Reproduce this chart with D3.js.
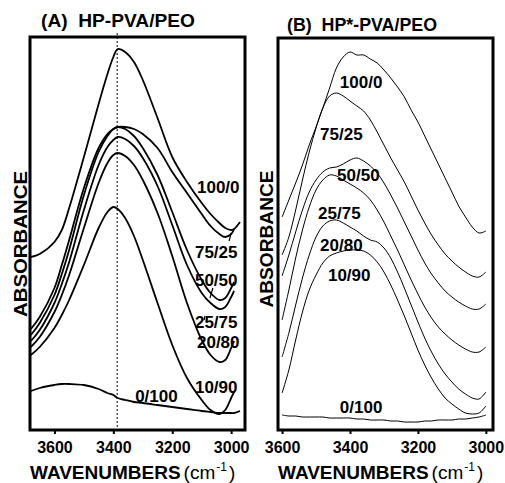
<!DOCTYPE html>
<html>
<head>
<meta charset="utf-8">
<script src="https://cdn.jsdelivr.net/npm/d3@7"></script>
<style>
  body { margin: 0; background: #fff; }
  svg { display: block; font-family: "Liberation Sans", Arial, Helvetica, sans-serif; }
  .lbl { font-weight: bold; font-size: 17px; }
  .tick text { font-weight: bold; font-size: 16px; font-family: "Liberation Sans", Arial, sans-serif; }
</style>
</head>
<body>
<svg id="chart" width="505" height="483"></svg>
<script>
"use strict";
// blend ratios (HP-PVA / PEO)
const blends = ["100/0", "75/25", "50/50", "25/75", "20/80", "10/90", "0/100"];

// panel A : HP-PVA/PEO
const wavenumbersA = [3680, 3650, 3600, 3575, 3550, 3500, 3450, 3420, 3400, 3385, 3360, 3330, 3300, 3250, 3200, 3150, 3100, 3070, 3040, 3020, 3000, 2990, 2970];
const absA_100_0 = [1.73, 1.76, 1.88, 2.00, 2.22, 2.73, 3.26, 3.56, 3.73, 3.81, 3.78, 3.68, 3.50, 3.12, 2.73, 2.48, 2.27, 2.16, 2.07, 2.02, 2.00, 2.01, 2.08];
const absA_75_25 = [1.01, 1.13, 1.42, 1.65, 1.90, 2.42, 2.82, 2.96, 3.01, 3.03, 3.03, 3.01, 2.96, 2.82, 2.58, 2.37, 2.16, 2.04, 1.96, 1.93, 1.96, 2.01, null];
const absA_50_50 = [0.95, 1.07, 1.35, 1.56, 1.80, 2.35, 2.78, 2.94, 3.01, 3.03, 3.01, 2.94, 2.82, 2.55, 2.18, 1.80, 1.50, 1.37, 1.30, 1.32, 1.42, 1.48, null];
const absA_25_75 = [0.89, 1.00, 1.27, 1.46, 1.68, 2.20, 2.65, 2.83, 2.90, 2.93, 2.91, 2.84, 2.72, 2.44, 2.05, 1.65, 1.37, 1.27, 1.21, 1.23, 1.33, 1.39, null];
const absA_20_80 = [0.83, 0.93, 1.18, 1.35, 1.55, 2.02, 2.47, 2.67, 2.75, 2.77, 2.74, 2.65, 2.50, 2.17, 1.74, 1.27, 0.90, 0.75, 0.68, 0.70, 0.82, 0.89, null];
const absA_10_90 = [0.75, 0.83, 1.02, 1.15, 1.30, 1.65, 2.02, 2.18, 2.23, 2.21, 2.12, 1.94, 1.70, 1.27, 0.85, 0.52, 0.30, 0.20, 0.16, 0.20, 0.32, 0.38, null];
const absA_0_100 = [0.39, 0.42, 0.45, 0.46, 0.46, 0.45, 0.41, 0.37, 0.35, 0.32, 0.30, 0.28, 0.27, 0.25, 0.23, 0.21, 0.19, 0.18, 0.17, 0.17, 0.17, 0.17, 0.19];
const labelWnA = [3116, 3123, 3123, 3123, 3116, 3123, 3326];
const labelAbsA = [2.37, 1.72, 1.44, 1.02, 0.82, 0.37, 0.28];
// short leader strokes between a label and its curve: [wn1, abs1, wn2, abs2]
const leadersA = [[3000, 1.97, 3007, 1.89], [3062, 1.42, 3072, 1.32], [3089, 1.14, 3092, 1.10]];
const peakLineA = 3387;

// panel B : HP*-PVA/PEO
const wavenumbersB = [3600, 3580, 3560, 3540, 3520, 3500, 3480, 3460, 3440, 3420, 3400, 3380, 3360, 3340, 3320, 3300, 3280, 3260, 3240, 3220, 3200, 3180, 3160, 3140, 3120, 3100, 3080, 3060, 3040, 3020, 3000];
const absB_100_0 = [2.13, 2.30, 2.47, 2.65, 2.85, 3.03, 3.22, 3.42, 3.62, 3.73, 3.78, 3.75, 3.75, 3.71, 3.67, 3.60, 3.52, 3.43, 3.33, 3.20, 3.08, 2.94, 2.80, 2.66, 2.52, 2.38, 2.24, 2.13, 2.03, 1.97, 1.99];
const absB_75_25 = [1.75, 1.93, 2.20, 2.50, 2.78, 3.02, 3.22, 3.34, 3.37, 3.34, 3.29, 3.24, 3.19, 3.10, 2.98, 2.85, 2.72, 2.60, 2.48, 2.34, 2.20, 2.07, 1.95, 1.85, 1.76, 1.69, 1.63, 1.58, 1.54, 1.53, 1.58];
const absB_50_50 = [1.54, 1.75, 1.98, 2.20, 2.38, 2.50, 2.58, 2.62, 2.63, 2.66, 2.70, 2.72, 2.69, 2.64, 2.57, 2.47, 2.35, 2.22, 2.08, 1.94, 1.80, 1.67, 1.56, 1.47, 1.39, 1.33, 1.28, 1.24, 1.21, 1.21, 1.26];
const absB_25_75 = [1.10, 1.40, 1.72, 2.00, 2.23, 2.40, 2.50, 2.55, 2.54, 2.50, 2.46, 2.42, 2.37, 2.30, 2.20, 2.08, 1.94, 1.80, 1.65, 1.50, 1.36, 1.23, 1.12, 1.03, 0.96, 0.90, 0.85, 0.81, 0.78, 0.78, 0.83];
const absB_20_80 = [0.73, 0.97, 1.25, 1.52, 1.75, 1.93, 2.04, 2.09, 2.10, 2.07, 2.03, 1.99, 1.94, 1.90, 1.88, 1.82, 1.72, 1.58, 1.42, 1.25, 1.08, 0.92, 0.78, 0.66, 0.56, 0.48, 0.41, 0.36, 0.32, 0.31, 0.38];
const absB_10_90 = [0.37, 0.60, 0.90, 1.18, 1.40, 1.55, 1.67, 1.74, 1.77, 1.79, 1.80, 1.80, 1.79, 1.75, 1.68, 1.58, 1.45, 1.30, 1.14, 0.97, 0.80, 0.65, 0.52, 0.41, 0.32, 0.26, 0.21, 0.17, 0.16, 0.17, 0.24];
const absB_0_100 = [0.15, 0.14, 0.14, 0.13, 0.13, 0.13, 0.13, 0.12, 0.12, 0.12, 0.12, 0.11, 0.11, 0.10, 0.10, 0.10, 0.09, 0.09, 0.08, 0.08, 0.08, 0.09, 0.09, 0.10, 0.10, 0.10, 0.11, 0.11, 0.12, 0.13, 0.15];
const labelWnB = [3430, 3488, 3438, 3494, 3488, 3465, 3430];
const labelAbsB = [3.42, 2.90, 2.49, 2.11, 1.79, 1.49, 0.17];

const xTicks = [3600, 3400, 3200, 3000];

const svg = d3.select("#chart");

function drawPanel(opt) {
    const g = svg.append("g");
    const x = opt.x, y = opt.y;
    const line = d3.line()
        .defined(d => d[1] !== null)
        .x(d => x(d[0]))
        .y(d => y(d[1]))
        .curve(d3.curveCatmullRom.alpha(0.5));

    opt.series.forEach(vals => {
        g.append("path")
            .datum(opt.wn.map((w, i) => [w, vals[i]]))
            .attr("d", line)
            .attr("fill", "none")
            .attr("stroke", "#000")
            .attr("stroke-width", opt.lineWidth)
            .attr("stroke-linejoin", "round");
    });

    (opt.leaders || []).forEach(l => {
        g.append("line")
            .attr("x1", x(l[0])).attr("y1", y(l[1]))
            .attr("x2", x(l[2])).attr("y2", y(l[3]))
            .attr("stroke", "#000").attr("stroke-width", 1.2);
    });

    blends.forEach((b, i) => {
        g.append("text")
            .attr("class", "lbl")
            .attr("x", x(opt.labelWn[i]))
            .attr("y", y(opt.labelAbs[i]))
            .text(b);
    });

    const [x0, x1] = x.range(), [y0, y1] = y.range();
    g.append("rect")
        .attr("x", x0).attr("y", y1)
        .attr("width", x1 - x0).attr("height", y0 - y1)
        .attr("fill", "none").attr("stroke", "#000").attr("stroke-width", 3);

    const axis = g.append("g")
        .attr("transform", "translate(0," + y0 + ")")
        .call(d3.axisBottom(x).tickValues(xTicks).tickFormat(d3.format("d")).tickSize(4).tickPadding(8));
    axis.select(".domain").remove();
    axis.selectAll(".tick line").attr("stroke-width", 2);

    g.append("text")
        .attr("x", opt.titleX).attr("y", opt.titleY)
        .attr("font-weight", "bold").attr("font-size", 18.5)
        .attr("textLength", opt.titleLen).attr("lengthAdjust", "spacingAndGlyphs")
        .text(opt.title);

    g.append("text")
        .attr("transform", "translate(" + opt.yLabelX + "," + opt.yLabelY + ") rotate(-90)")
        .attr("text-anchor", "middle")
        .attr("font-weight", "bold").attr("font-size", opt.yLabelSize)
        .attr("textLength", opt.yLabelLen).attr("lengthAdjust", "spacingAndGlyphs")
        .text("ABSORBANCE");

    const xl = g.append("text")
        .attr("x", x0).attr("y", 479)
        .attr("font-size", 19);
    xl.append("tspan").attr("font-weight", "bold").text("WAVENUMBERS");
    xl.append("tspan").attr("dx", 3).text("(cm");
    xl.append("tspan").attr("font-size", 12).attr("dy", -8).attr("dx", 1).text("-1");
    xl.append("tspan").attr("dy", 8).attr("dx", 2).text(")");
    return g;
}

const xA = d3.scaleLinear().domain([3683, 2953]).range([30, 245]);
const yA = d3.scaleLinear().domain([0, 3.93]).range([430, 37]);
const gA = drawPanel({
    x: xA, y: yA, wn: wavenumbersA,
    series: [absA_100_0, absA_75_25, absA_50_50, absA_25_75, absA_20_80, absA_10_90, absA_0_100],
    labelWn: labelWnA, labelAbs: labelAbsA, leaders: leadersA, lineWidth: 1.8,
    title: "(A)\u00a0\u00a0HP-PVA/PEO", titleX: 41, titleY: 27, titleLen: 154,
    yLabelX: 27, yLabelY: 244, yLabelSize: 19, yLabelLen: 146
});
gA.append("line")
    .attr("x1", xA(peakLineA)).attr("x2", xA(peakLineA))
    .attr("y1", yA.range()[1] - 4).attr("y2", yA.range()[0])
    .attr("stroke", "#000").attr("stroke-width", 1)
    .attr("stroke-dasharray", "2,2");

const xB = d3.scaleLinear().domain([3612, 2979]).range([278, 493]);
const yB = d3.scaleLinear().domain([0, 3.92]).range([430, 38]);
drawPanel({
    x: xB, y: yB, wn: wavenumbersB,
    series: [absB_100_0, absB_75_25, absB_50_50, absB_25_75, absB_20_80, absB_10_90, absB_0_100],
    labelWn: labelWnB, labelAbs: labelAbsB, lineWidth: 1,
    title: "(B)\u00a0\u00a0HP*-PVA/PEO", titleX: 287, titleY: 31, titleLen: 150,
    yLabelX: 273, yLabelY: 239, yLabelSize: 18, yLabelLen: 137
});
</script>
</body>
</html>
